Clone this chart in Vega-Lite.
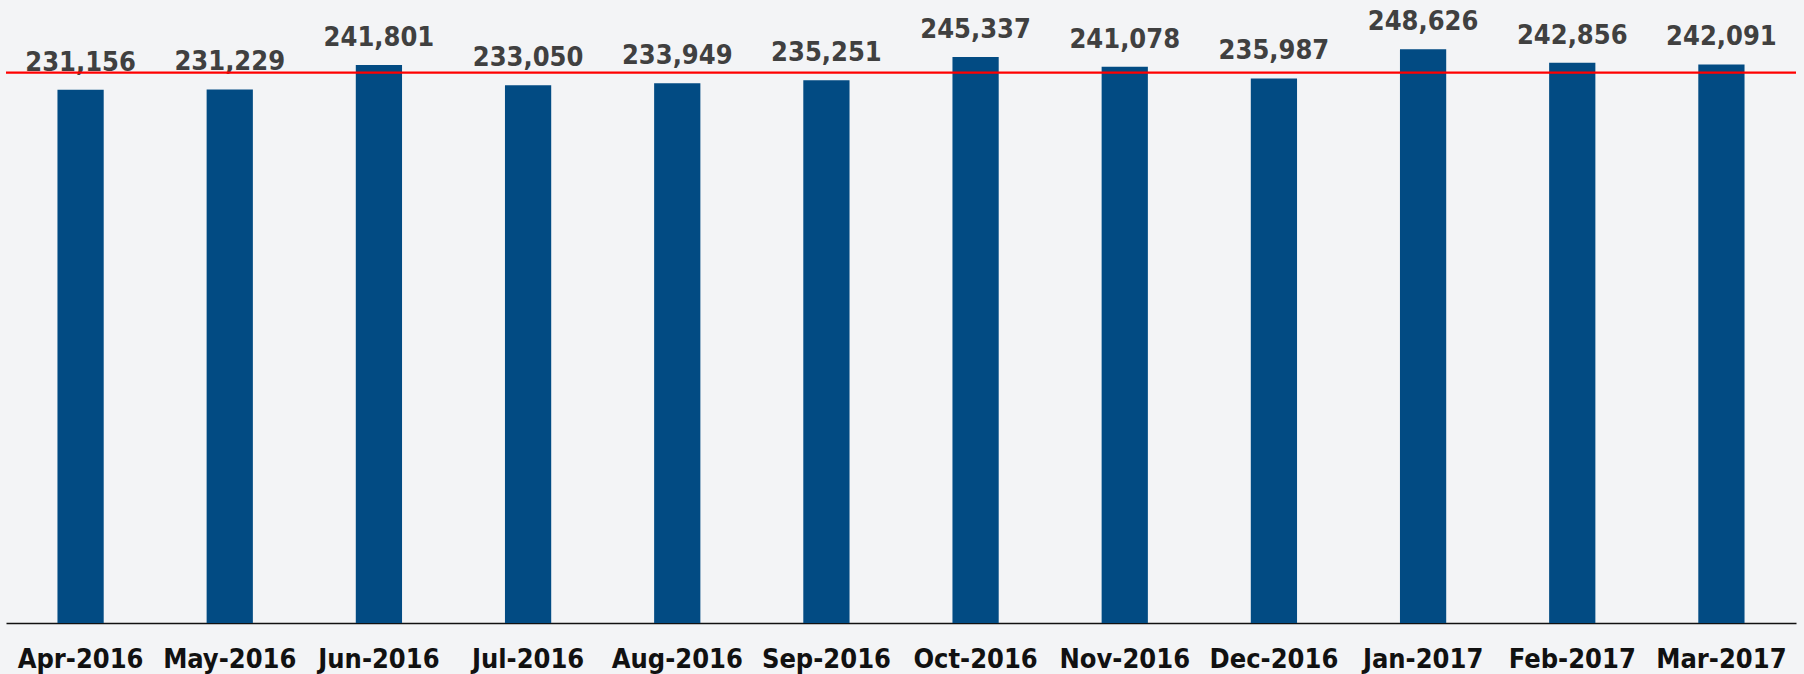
{
  "$schema": "https://vega.github.io/schema/vega-lite/v6.json",
  "width": 1790,
  "height": 623,
  "autosize": {"type": "none"},
  "padding": {"left": 6, "top": 0, "right": 8, "bottom": 51},
  "background": "#f3f4f6",
  "config": {"view": {"stroke": null}},
  "data": {
    "values": [
      {"month": "Apr-2016", "value": 231156},
      {"month": "May-2016", "value": 231229},
      {"month": "Jun-2016", "value": 241801},
      {"month": "Jul-2016", "value": 233050},
      {"month": "Aug-2016", "value": 233949},
      {"month": "Sep-2016", "value": 235251},
      {"month": "Oct-2016", "value": 245337},
      {"month": "Nov-2016", "value": 241078},
      {"month": "Dec-2016", "value": 235987},
      {"month": "Jan-2017", "value": 248626},
      {"month": "Feb-2017", "value": 242856},
      {"month": "Mar-2017", "value": 242091}
    ]
  },
  "layer": [
    {
      "mark": {"type": "bar", "width": {"band": 0.31}, "color": "#024b83"},
      "encoding": {
        "x": {
          "field": "month", "type": "nominal", "sort": null,
          "scale": {"padding": 0},
          "axis": {
            "title": null, "labelAngle": 0, "ticks": false, "tickSize": 0,
            "labelPadding": 44.5, "labelBaseline": "alphabetic",
            "labelFont": "DejaVu Sans Condensed", "labelFontWeight": "bold",
            "labelFontSize": 27, "labelColor": "#111111", "labelOverlap": false,
            "domainColor": "#111111", "domainWidth": 1.7, "grid": false
          }
        },
        "y": {
          "field": "value", "type": "quantitative",
          "scale": {"domain": [0, 270000], "nice": false},
          "axis": null
        }
      }
    },
    {
      "mark": {
        "type": "text", "baseline": "alphabetic", "dy": -19,
        "font": "DejaVu Sans Condensed", "fontWeight": "bold",
        "fontSize": 27, "color": "#404040"
      },
      "encoding": {
        "x": {"field": "month", "type": "nominal", "sort": null},
        "y": {"field": "value", "type": "quantitative"},
        "text": {"field": "value", "type": "quantitative", "format": ",d"}
      }
    },
    {
      "mark": {"type": "rule", "color": "#ff0000", "strokeWidth": 2.2},
      "encoding": {
        "y": {"aggregate": "mean", "field": "value", "type": "quantitative"}
      }
    }
  ]
}
